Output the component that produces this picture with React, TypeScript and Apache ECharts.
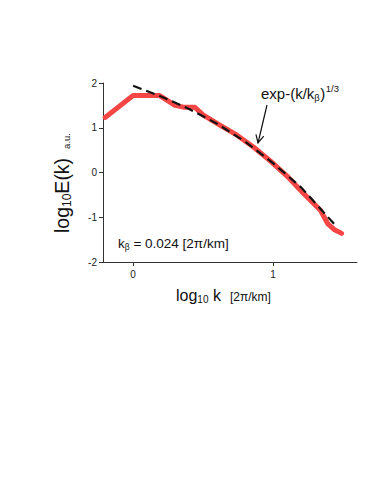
import React, { useEffect, useRef } from "react";
import * as echarts from "echarts";

const redX = [-0.2, 0.0, 0.19, 0.3, 0.36, 0.44, 0.5, 0.62, 0.74, 0.86, 0.98, 1.1, 1.21, 1.34, 1.39, 1.44, 1.49];
const redY = [1.23, 1.72, 1.72, 1.5, 1.46, 1.46, 1.29, 1.06, 0.84, 0.57, 0.26, -0.08, -0.44, -0.85, -1.14, -1.28, -1.36];
const fitX = [0, 0.2, 0.4, 0.6, 0.8, 1.0, 1.2, 1.46];
const fitY = [1.94, 1.7, 1.42, 1.09, 0.69, 0.21, -0.33, -1.23];
const xTicks = [0, 1];
const yTicks = [-2, -1, 0, 1, 2];

const FONT = "'Liberation Sans', Arial, Helvetica, sans-serif";

let ctx: CanvasRenderingContext2D | null = null;
function measure(t: string, size: number) {
  if (!ctx) ctx = document.createElement("canvas").getContext("2d");
  ctx!.font = `${size}px ${FONT}`;
  return ctx!.measureText(t).width;
}

type Seg = { t: string; size: number; dy?: number; gap?: number };
function seq(segs: Seg[], x0: number, y0: number, color = "#111") {
  let x = x0;
  const out: any[] = [];
  for (const s of segs) {
    x += s.gap || 0;
    out.push({
      type: "text",
      x,
      y: y0 + (s.dy || 0),
      silent: true,
      style: {
        text: s.t,
        fontSize: s.size,
        fontFamily: FONT,
        fill: color,
        align: "left",
        verticalAlign: "middle",
      },
    });
    x += measure(s.t, s.size);
  }
  return out;
}

export default function App() {
  const ref = useRef<HTMLDivElement>(null);
  useEffect(() => {
    const chart = echarts.init(ref.current!, null, { renderer: "svg" });
    const tip = [258, 143];
    const tail = [267, 105];
    const dx = tip[0] - tail[0], dyy = tip[1] - tail[1];
    const L = Math.hypot(dx, dyy);
    const ux = dx / L, uy = dyy / L;
    const bx = tip[0] - 8 * ux, by = tip[1] - 8 * uy;
    const px = -uy, py = ux;

    chart.setOption({
      animation: false,
      backgroundColor: "#fff",
      grid: { left: 103, right: 17, top: 83, bottom: 226, containLabel: false },
      xAxis: {
        type: "value",
        min: -0.215,
        max: 1.6,
        axisLine: { show: true, onZero: false, lineStyle: { color: "#333", width: 1 } },
        axisTick: { show: true, length: 4, customValues: xTicks, lineStyle: { color: "#333" } },
        axisLabel: { customValues: xTicks, fontSize: 10, color: "#222", fontFamily: FONT, margin: 7 },
        splitLine: { show: false },
      },
      yAxis: {
        type: "value",
        min: -2,
        max: 2,
        interval: 1,
        axisLine: { show: true, onZero: false, lineStyle: { color: "#333", width: 1 } },
        axisTick: { show: true, length: 4, lineStyle: { color: "#333" } },
        axisLabel: { fontSize: 10, color: "#222", fontFamily: FONT, margin: 6, customValues: yTicks },
        splitLine: { show: false },
      },
      series: [
        {
          type: "line",
          data: redX.map((x, i) => [x, redY[i]]),
          showSymbol: false,
          lineStyle: { color: "#f54646", width: 5, cap: "round", join: "round" },
          z: 2,
        },
        {
          type: "line",
          data: fitX.map((x, i) => [x, fitY[i]]),
          showSymbol: false,
          lineStyle: { color: "#111", width: 2.2, type: [9, 5] },
          z: 3,
        },
      ],
      graphic: [
        ...seq(
          [
            { t: "exp-(k/k", size: 15 },
            { t: "β", size: 9.5, dy: 4 },
            { t: ")", size: 15, gap: 0.5 },
            { t: "1/3", size: 9.5, dy: -5, gap: 0.5 },
          ],
          261,
          93.5
        ),
        {
          type: "line",
          silent: true,
          shape: { x1: tail[0], y1: tail[1], x2: tip[0], y2: tip[1] },
          style: { stroke: "#111", lineWidth: 1.2 },
        },
        {
          type: "polyline",
          silent: true,
          shape: {
            points: [
              [bx + 4 * px, by + 4 * py],
              tip,
              [bx - 4 * px, by - 4 * py],
            ],
          },
          style: { stroke: "#111", lineWidth: 1.2, fill: null },
        },
        ...seq(
          [
            { t: "k", size: 13.5 },
            { t: "β", size: 8.5, dy: 3.5 },
            { t: " = 0.024 [2π/km]", size: 13.5 },
          ],
          118,
          243.5
        ),
        ...seq(
          [
            { t: "log", size: 16 },
            { t: "10", size: 10, dy: 4 },
            { t: " k", size: 16 },
            { t: "[2π/km]", size: 12, dy: 1, gap: 9 },
          ],
          176,
          295.5
        ),
        {
          type: "group",
          x: 62,
          y: 233,
          rotation: Math.PI / 2,
          children: seq(
            [
              { t: "log", size: 19.5 },
              { t: "10", size: 12, dy: 5 },
              { t: "E(k)", size: 19.5 },
              { t: "a.u.", size: 9.5, dy: 4, gap: 9 },
            ],
            0,
            0
          ),
        },
      ],
    });
    return () => chart.dispose();
  }, []);
  return <div ref={ref} style={{ width: 374, height: 488, margin: -8 }} />;
}
